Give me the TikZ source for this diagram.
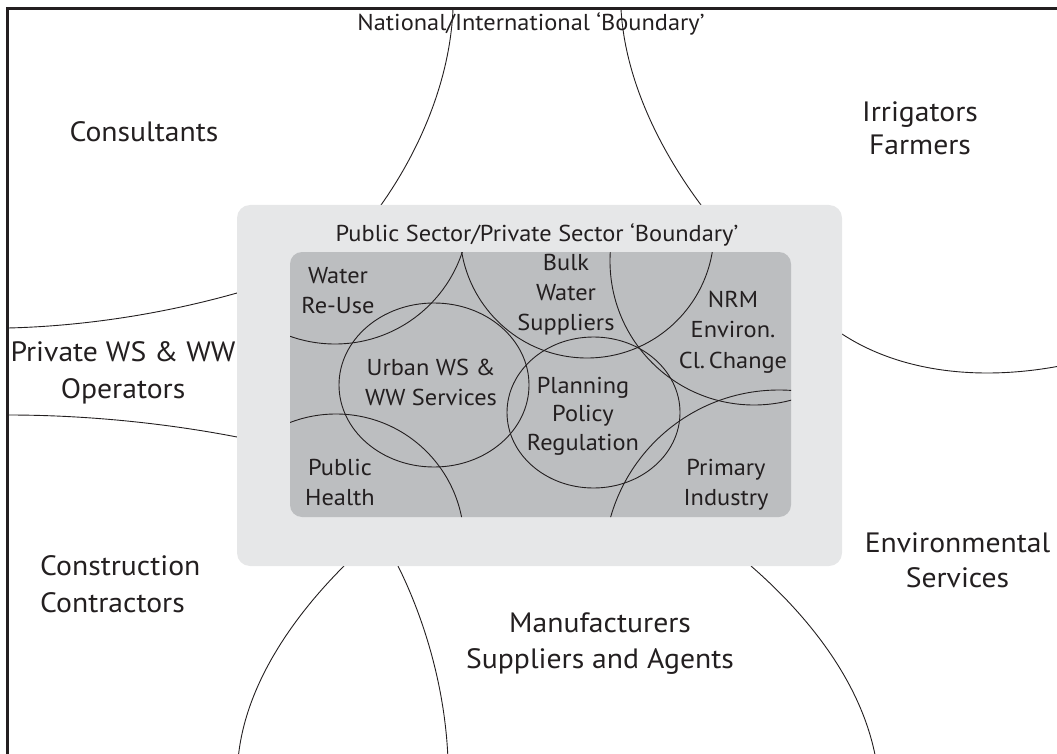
\documentclass[tikz,border=0pt]{standalone}
\usepackage{fontspec}
\setmainfont{PT Sans}[FakeStretch=1.06]
\definecolor{ink}{HTML}{231F20}
\definecolor{paleband}{HTML}{E6E7E8}
\definecolor{coreband}{HTML}{BCBEC0}
\begin{document}
\begin{tikzpicture}[x=1pt,y=1pt,
  curve/.style={draw=ink, line width=0.9pt},
  frameline/.style={draw=ink, line width=3pt},
  outerlabel/.style={text=ink, align=center, inner sep=0pt, anchor=base,
    font=\fontsize{28}{36}\selectfont},
  innerlabel/.style={text=ink, align=center, inner sep=0pt, anchor=base,
    font=\fontsize{23}{30}\selectfont},
]
\useasboundingbox (0,0) rectangle (1057,-754);

\begin{scope}
  \clip (0,0) rectangle (1057,-754);
  % outer frame, running off the right and bottom edges
  \draw[frameline] (7.5,-9) rectangle (1100,-800);
  % stakeholder boundaries outside the public/private band
  \draw[curve] (453,-9) .. controls (450,-80) and (420,-150) .. (381,-205);
  \draw[curve] (621,-9) .. controls (625,-80) and (660,-150) .. (701,-205);
  \draw[curve] (8,-328) .. controls (90,-326) and (170,-312) .. (237,-293);
  \draw[curve] (8,-415) .. controls (90,-415) and (170,-424) .. (237,-437);
  \draw[curve] (842,-334) .. controls (900,-372) and (980,-382) .. (1065,-365);
  \draw[curve] (344,-566) .. controls (300,-610) and (245,-680) .. (238,-760);
  \draw[curve] (398,-566) .. controls (420,-610) and (445,-680) .. (448,-760);
  \draw[curve] (751,-566) .. controls (790,-600) and (860,-670) .. (876,-760);
\end{scope}

% public sector / private sector band
\fill[paleband, rounded corners=13pt] (237,-205) rectangle (842,-566);
% public sector core
\fill[coreband, rounded corners=12pt] (290,-252) rectangle (791,-517);

\begin{scope}
  \clip[rounded corners=12pt] (290,-252) rectangle (791,-517);
  \draw[curve] (335,-210) circle [radius=134];   % water re-use
  \draw[curve] (587,-231) circle [radius=127];   % bulk water suppliers
  \draw[curve] (754,-261) circle [radius=144];   % NRM / environment
  \draw[curve] (779,-565) circle [radius=175];   % primary industry
  \draw[curve] (336,-542) circle [radius=128];   % public health
  \draw[curve] (434,-385) ellipse [x radius=95, y radius=82];     % urban services
  \draw[curve] (593.5,-412.5) ellipse [x radius=86.5, y radius=75.5]; % planning
\end{scope}

% outer labels (multi-line nodes sit on the baseline of their last line)
\node[outerlabel, font=\fontsize{23}{28}\selectfont] (national) at (531,-31) {National/International ‘Boundary’};
\node[outerlabel] (consult) at (144,-142) {Consultants};
\node[outerlabel, font=\fontsize{28}{33}\selectfont] (irrig) at (920,-155) {Irrigators\\Farmers};
\node[outerlabel, font=\fontsize{28}{37}\selectfont] (private) at (123,-398) {Private WS \& WW\\Operators};
\node[outerlabel, align=left, anchor=base west, font=\fontsize{28}{37}\selectfont] (constr) at (40,-612) {Construction\\Contractors};
\node[outerlabel] (manuf) at (600,-668) {Manufacturers\\Suppliers and Agents};
\node[outerlabel, font=\fontsize{28}{35}\selectfont] (envserv) at (957.5,-587) {Environmental\\Services};

% inner labels
\node[innerlabel] (boundary) at (537,-241) {Public Sector/Private Sector ‘Boundary’};
\node[innerlabel] (reuse) at (338,-313) {Water\\Re-Use};
\node[innerlabel] (bulk) at (566,-330) {Bulk\\Water\\Suppliers};
\node[innerlabel, font=\fontsize{23}{30.5}\selectfont] (nrm) at (733,-368) {NRM\\Environ.\\Cl.\,Change};
\node[innerlabel] (urban) at (431,-405) {Urban WS \&\\WW Services};
\node[innerlabel, font=\fontsize{23}{28.5}\selectfont] (planning) at (583,-450) {Planning\\Policy\\Regulation};
\node[innerlabel] (health) at (340,-505) {Public\\Health};
\node[innerlabel] (primary) at (726,-505) {Primary\\Industry};
\end{tikzpicture}
\end{document}
